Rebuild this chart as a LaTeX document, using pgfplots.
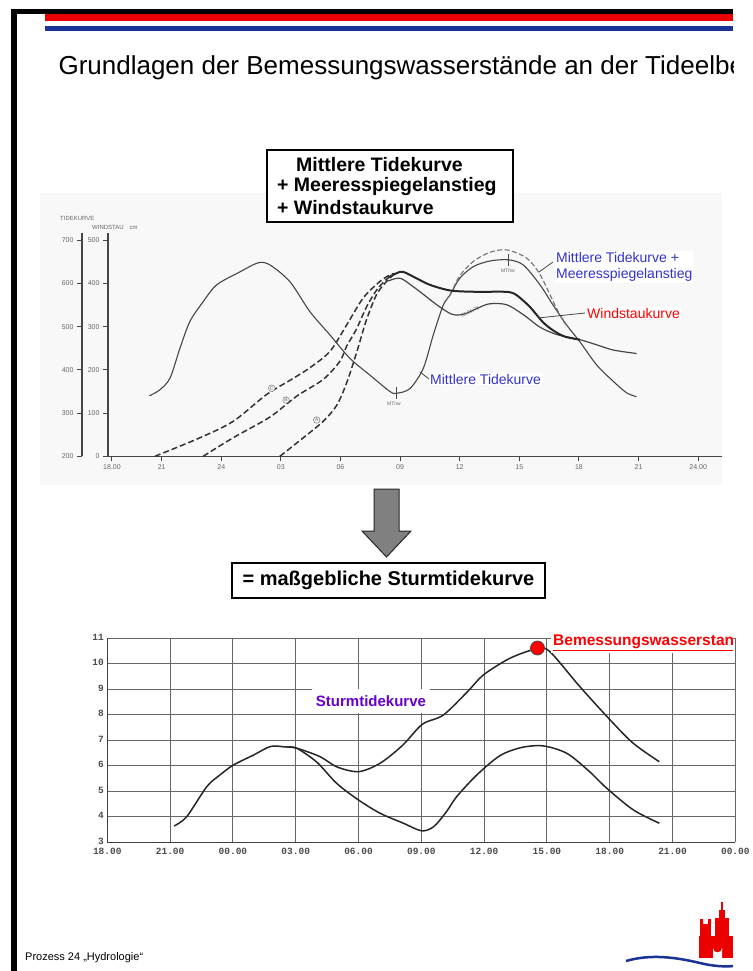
\documentclass[border=0pt]{standalone}
\usepackage{fontspec}
\setmainfont{Liberation Sans}
\newfontfamily\monofont{Liberation Mono}
\usepackage{pgfplots}
\pgfplotsset{compat=1.18}

\definecolor{hhred}{RGB}{235,0,0}
\definecolor{hhblue}{RGB}{25,50,150}
\definecolor{lblue}{RGB}{51,51,204}
\definecolor{lviolet}{RGB}{102,0,204}
\definecolor{scan}{RGB}{70,70,70}
\definecolor{scanbg}{RGB}{248,248,248}

\begin{document}
\begin{tikzpicture}
\begin{scope}[x=1pt,y=-1pt]
\useasboundingbox (0,0) rectangle (733,971);
\clip (0,0) rectangle (733,971);
\fill[white] (0,0) rectangle (733,971);
% slide frame
\fill[black] (11,9) rectangle (733,14);
\fill[black] (11,9) rectangle (17,971);
\fill[hhred] (45,14) rectangle (733,21);
\fill[hhblue] (45,26) rectangle (733,31);
\node[anchor=west, font=\fontsize{26}{29}\selectfont] at (55,68)
  {Grundlagen der Bemessungswasserstände an der Tideelbe};
% scanned figure background
\fill[scanbg] (40,193) rectangle (722,485);
\end{scope}

% ---------- upper chart: Tidekurve / Windstau ----------
\begin{axis}[
  at={(108pt,-456.3pt)}, anchor=south west,
  scale only axis, width=614pt, height=223.3pt,
  xmin=0.3, xmax=31.2, ymin=200, ymax=717,
  axis x line*=bottom, axis y line*=left,
  axis line style={scan, line width=1.2pt, -},
  xtick={0.5,3,6,9,12,15,18,21,24,27,30},
  xticklabels={18.00,21,24,03,06,09,12,15,18,21,24.00},
  ytick={200,300,400,500,600,700},
  yticklabels={0,100,200,300,400,500},
  tick align=outside, major tick length=5pt,
  tick style={scan, line width=1pt},
  tick label style={font=\fontsize{7}{8}\selectfont, text=black!60},
  clip=false,
]
% Mittlere Tidekurve
\addplot[scan, line width=1.1pt, smooth] coordinates {
(2.38,340)(2.91,354)(3.42,381)(3.92,450)(4.42,512)(5.09,558)(5.77,597)
(6.94,627)(7.86,648)(8.45,643)(9.46,604)(10.46,535)(11.47,481)(12.47,427)
(13.48,388)(14.49,350)(14.83,346)(15.5,357)(16.17,404)(16.67,481)(17.17,550)
(17.51,573)(18.0,612)(18.68,639)(19.5,652)(20.44,655)(21.2,643)(22.04,597)
(22.7,550)(23.38,504)(24.05,465)(24.9,411)(25.74,373)(26.4,347)(26.9,338)};
% Mittlere Tidekurve + Meeresspiegelanstieg
\addplot[black!55, line width=1.1pt, dash pattern=on 5pt off 2.5pt, smooth] coordinates {
(17.3,560)(17.6,582)(18.0,618)(18.68,651)(19.5,672)(20.36,678)(21.37,659)
(22.04,621)(22.7,559)(23.2,514)(23.45,500)};
% Windstaukurve 03.01.76
\addplot[scan, line width=1.2pt, smooth] coordinates {
(14.4,606)(14.83,612)(15.16,609)(16.0,581)(16.84,551)(17.6,529)(18.2,529)
(18.9,543)(19.5,553)(20.36,551)(21.2,528)(22.04,499)(22.88,482)(24.05,470)
(24.9,458)(25.73,446)(26.9,438)};
% resulting heavy curve
\addplot[black!85, line width=2pt, smooth] coordinates {
(14.4,614)(14.83,624)(15.16,627)(15.83,612)(16.5,597)(17.51,584)(18.68,581)
(20.2,581)(20.6,579)(20.9,572)(21.53,546)(22.2,510)(22.75,490)(23.3,477)(24.05,470)};
% Windstau C
\addplot[black!80, line width=1.5pt, dash pattern=on 6pt off 3pt, smooth] coordinates {
(2.66,200)(4.93,243)(6.6,281)(8.28,343)(9.46,376)(10.46,405)(11.47,443)
(12.31,504)(13.15,567)(13.99,605)(14.49,620)(14.7,623)};
% Windstau B
\addplot[black!80, line width=1.5pt, dash pattern=on 6pt off 3pt, smooth] coordinates {
(5.09,200)(6.6,243)(8.45,291)(9.79,339)(11.13,378)(11.97,420)(12.31,455)
(12.81,495)(13.3,545)(13.82,585)(14.32,610)(14.6,620)};
% Windstau A
\addplot[black!80, line width=1.5pt, dash pattern=on 6pt off 3pt, smooth] coordinates {
(8.95,200)(10.13,243)(11.13,281)(11.81,318)(12.31,370)(12.81,440)(13.3,515)
(13.82,575)(14.32,605)(14.66,620)};
\end{axis}

% outer Tidekurve scale
\begin{axis}[
  at={(82pt,-456.3pt)}, anchor=south west,
  scale only axis, width=1pt, height=223.3pt,
  xmin=0, xmax=1, ymin=200, ymax=717,
  axis y line*=left, hide x axis,
  axis line style={scan, line width=1.2pt, -},
  ytick={200,300,400,500,600,700},
  yticklabels={200,300,400,500,600,700},
  tick align=outside, major tick length=5pt,
  tick style={scan, line width=1pt},
  tick label style={font=\fontsize{7}{8}\selectfont, text=black!60},
]
\addplot[draw=none] coordinates {(0,200)};
\end{axis}

% ---------- lower chart: Sturmtidekurve ----------
\begin{axis}[
  at={(107.3pt,-842.3pt)}, anchor=south west,
  scale only axis, width=628pt, height=204pt,
  xmin=0, xmax=30, ymin=3, ymax=11,
  axis x line*=bottom, axis y line*=left,
  axis line style={black!75, line width=1.3pt, -},
  grid=major, grid style={black!60, line width=1.1pt},
  xtick={0,3,6,9,12,15,18,21,24,27,30},
  xticklabels={18.00,21.00,00.00,03.00,06.00,09.00,12.00,15.00,18.00,21.00,00.00},
  ytick={3,4,5,6,7,8,9,10,11},
  yticklabels={3,4,5,6,7,8,9,10,11},
  major tick length=0pt,
  tick label style={font=\monofont\bfseries\fontsize{9.5}{10}\selectfont, text=black!70},
  xticklabel style={yshift=-2pt},
  yticklabel style={yshift=1pt},
  clip=false,
]
\addplot[black!85, line width=1.5pt, smooth] coordinates {
(3.19,3.64)(3.79,4.0)(4.75,5.18)(5.38,5.64)(6.02,6.03)(6.98,6.42)(7.8,6.76)
(8.5,6.74)(9.05,6.69)(10.16,6.36)(10.96,5.96)(12.0,5.77)(13.03,6.1)(14.1,6.8)
(15.05,7.63)(16.05,7.99)(17.2,8.9)(17.96,9.56)(19.24,10.22)(20.55,10.6)
(21.15,10.47)(22.58,9.1)(24.02,7.8)(25.13,6.88)(26.37,6.16)};
\addplot[black!85, line width=1.5pt, smooth] coordinates {
(8.6,6.73)(9.05,6.69)(10.0,6.15)(10.96,5.31)(12.0,4.66)(13.03,4.14)(14.14,3.75)
(15.02,3.45)(15.6,3.62)(16.2,4.2)(16.69,4.79)(17.65,5.64)(18.76,6.4)(19.8,6.72)
(20.83,6.78)(21.95,6.49)(23.0,5.8)(23.86,5.12)(25.13,4.27)(26.37,3.75)};
\end{axis}

\begin{scope}[x=1pt,y=-1pt]
\clip (0,0) rectangle (733,971);
% labels lower chart
\node[fill=white, minimum width=118, minimum height=24, inner sep=0pt,
  text=lviolet, font=\bfseries\fontsize{15}{17}\selectfont] at (371,701) {Sturmtidekurve};
\node[fill=white, anchor=west, inner sep=2pt, text=red,
  font=\bfseries\fontsize{15.5}{17}\selectfont] at (551,643) {\underline{Bemessungswasserstand}};
\end{scope}

\begin{axis}[
  at={(107.3pt,-842.3pt)}, anchor=south west,
  scale only axis, width=628pt, height=204pt,
  xmin=0, xmax=30, ymin=3, ymax=11, hide axis, clip=false]
\addplot[only marks, mark=*, mark size=7pt, mark options={fill=red, draw=black!70, line width=0.8pt}]
  coordinates {(20.55,10.62)};
\end{axis}

\begin{scope}[x=1pt,y=-1pt]
\clip (0,0) rectangle (733,971);
% axis titles of the scanned chart
\node[anchor=west, inner sep=0pt, font=\fontsize{6}{7}\selectfont, text=black!60] at (60,218) {TIDEKURVE};
\node[anchor=west, inner sep=0pt, font=\fontsize{6}{7}\selectfont, text=black!60] at (92,227) {WINDSTAU\quad cm};
% circled letters
\foreach \p/\l in {{(271.7,388.3)}/C,{(286,400)}/B,{(316.7,420)}/A}
  \node[circle, draw=black!60, fill=scanbg, inner sep=0.6pt, font=\fontsize{5}{5}\selectfont, text=black!60] at \p {\l};
% MThw / MTnw markers
\draw[scan, line width=0.8pt] (396.7,387) -- (396.7,399);
\node[font=\fontsize{5}{6}\selectfont, text=black!60] at (394,404) {MTnw};
\draw[scan, line width=0.8pt] (508.3,254) -- (508.3,266);
\node[font=\fontsize{5}{6}\selectfont, text=black!60] at (508,271) {MThw};
\node[rotate=25, font=\fontsize{5}{6}\selectfont, text=black!60] at (470,312) {03.01.76};
% curve labels
\draw[scan, line width=0.8pt] (553,262) -- (539,272);
\node[anchor=west, fill=white, inner sep=1pt, align=left, text=lblue,
  font=\fontsize{14}{16}\selectfont] at (555,267) {Mittlere Tidekurve +\\Meeresspiegelanstieg};
\draw[scan, line width=0.8pt] (585,313) -- (538,318);
\node[anchor=west, fill=white, inner sep=1pt, text=red, font=\fontsize{14}{16}\selectfont] at (586,313) {Windstaukurve};
\draw[scan, line width=0.8pt] (429,379) -- (420,372);
\node[anchor=west, fill=white, inner sep=1pt, text=lblue, font=\fontsize{14}{16}\selectfont] at (429,379) {Mittlere Tidekurve};
% header box
\draw[black, line width=1.6pt, fill=white] (267,150) rectangle (513,222);
\node[anchor=west, inner sep=0pt, font=\bfseries\fontsize{19.5}{21}\selectfont] at (296,165) {Mittlere Tidekurve};
\node[anchor=west, inner sep=0pt, font=\bfseries\fontsize{19.5}{21}\selectfont] at (277,187) {+ Meeresspiegelanstieg};
\node[anchor=west, inner sep=0pt, font=\bfseries\fontsize{19.5}{21}\selectfont] at (277,208) {+ Windstaukurve};
% arrow
\filldraw[fill=black!50, draw=black!85, line width=1pt]
  (374,489) -- (399,489) -- (399,531) -- (411,531) -- (386.5,557) -- (362,531) -- (374,531) -- cycle;
% result box
\draw[black, line width=1.6pt, fill=white] (232,563) rectangle (545,598);
\node[font=\bfseries\fontsize{20}{22}\selectfont] at (388.5,580.5) {= maßgebliche Sturmtidekurve};
% footer
\node[anchor=west, inner sep=0pt, font=\fontsize{11}{13}\selectfont] at (25,958) {Prozess 24 „Hydrologie“};
% logo
\draw[hhblue, line width=2.5pt] (626,961) .. controls (650,954) and (675,957) .. (700,963) .. controls (712,966) and (725,967) .. (733,966);
\fill[hhred] (699,936) rectangle (733,958);
\fill[hhred] (700,924) rectangle (711,938);
\fill[hhred] (715,918) rectangle (729,938);
\fill[hhred] (719,910) rectangle (725,919);
\fill[hhred] (721.3,902) rectangle (722.7,910);
\fill[hhred] (700,919) rectangle (703,924) (708,919) rectangle (711,924);
\fill[white] (713,958) -- (713,948) arc (180:0:4.5) -- (722,958) -- cycle;
\end{scope}
\end{tikzpicture}
\end{document}
